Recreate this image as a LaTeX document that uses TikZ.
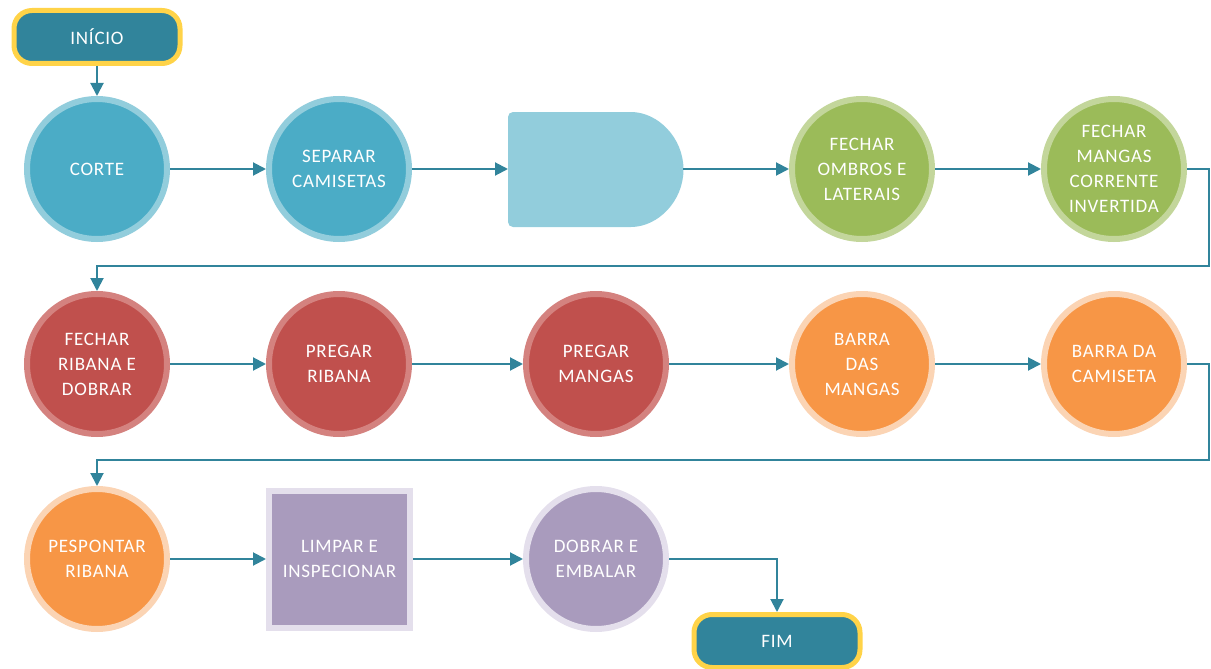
\documentclass[tikz,border=0pt]{standalone}
\usepackage{fontspec}
\setsansfont{Carlito}[LetterSpace=4]
\usetikzlibrary{arrows.meta}
\definecolor{cteal}{HTML}{31849B}
\definecolor{cyellow}{HTML}{FFD348}
\definecolor{cblue}{HTML}{4BACC6}
\definecolor{cbluering}{HTML}{92CDDC}
\definecolor{cgreen}{HTML}{9BBB59}
\definecolor{cgreenring}{HTML}{C3D69B}
\definecolor{cred}{HTML}{C0504D}
\definecolor{credring}{HTML}{D4827F}
\definecolor{corange}{HTML}{F79646}
\definecolor{corangering}{HTML}{FBD4B4}
\definecolor{cpurple}{HTML}{A99BBD}
\definecolor{cpurplering}{HTML}{E4DFEC}
\tikzset{
  every picture/.style={font=\sffamily\fontsize{19}{25}\selectfont, x=1pt, y=-1pt},
  proc/.style 2 args={circle, fill=#1, draw=#2, line width=6pt, minimum size=140pt, inner sep=0pt, align=center, text=white},
  term/.style={rectangle, rounded corners=18pt, fill=cteal, draw=cyellow, line width=5pt, minimum width=166pt, minimum height=53pt, text=white},
  arrow/.style={-{Triangle[length=13pt, width=13pt]}, draw=cteal, line width=2pt},
}

\begin{document}
\begin{tikzpicture}
  \useasboundingbox (0,0) rectangle (1211,669);
  % first row
  \node[term] (inicio) at (97,37) {INÍCIO};
  \node[proc={cblue}{cbluering}] (corte) at (97,169) {CORTE};
  \node[proc={cblue}{cbluering}] (separar) at (339,169) {SEPARAR\\CAMISETAS};
  \fill[cbluering, rounded corners=5pt] (626,112) arc[start angle=-90, end angle=90, radius=57.5] -- (508,227) -- (508,112) -- cycle;
  \coordinate (delayin) at (508,169);
  \coordinate (delayout) at (683,169);
  \node[proc={cgreen}{cgreenring}] (ombros) at (862,169) {FECHAR\\OMBROS E\\LATERAIS};
  \node[proc={cgreen}{cgreenring}] (mangas) at (1114,169) {FECHAR\\MANGAS\\CORRENTE\\INVERTIDA};
  % second row
  \node[proc={cred}{credring}] (ribana) at (97,364) {FECHAR\\RIBANA E\\DOBRAR};
  \node[proc={cred}{credring}] (pregrib) at (339,364) {PREGAR\\RIBANA};
  \node[proc={cred}{credring}] (pregmang) at (596,364) {PREGAR\\MANGAS};
  \node[proc={corange}{corangering}] (barramang) at (862,364) {BARRA\\DAS\\MANGAS};
  \node[proc={corange}{corangering}] (barracam) at (1114,364) {BARRA DA\\CAMISETA};
  % third row
  \node[proc={corange}{corangering}] (pesp) at (97,559) {PESPONTAR\\RIBANA};
  \node[rectangle, fill=cpurple, draw=cpurplering, line width=6pt, minimum width=141pt, minimum height=137pt, align=center, text=white] (limpar) at (339.5,559) {LIMPAR E\\INSPECIONAR};
  \node[proc={cpurple}{cpurplering}] (dobrar) at (596,559) {DOBRAR E\\EMBALAR};
  \node[term] (fim) at (777,641) {FIM};
  % turns at the right edge
  \coordinate (turnA) at (1209,266);
  \coordinate (turnB) at (1209,460);
  % connectors
  \draw[arrow] (inicio) -- (corte);
  \draw[arrow] (corte) -- (separar);
  \draw[arrow] (separar) -- (delayin);
  \draw[arrow] (delayout) -- (ombros);
  \draw[arrow] (ombros) -- (mangas);
  \draw[arrow] (mangas.east) -| (turnA) -| (ribana.north);
  \draw[arrow] (ribana) -- (pregrib);
  \draw[arrow] (pregrib) -- (pregmang);
  \draw[arrow] (pregmang) -- (barramang);
  \draw[arrow] (barramang) -- (barracam);
  \draw[arrow] (barracam.east) -| (turnB) -| (pesp.north);
  \draw[arrow] (pesp) -- (limpar);
  \draw[arrow] (limpar) -- (dobrar);
  \draw[arrow] (dobrar.east) -| (fim.north);
\end{tikzpicture}
\end{document}
